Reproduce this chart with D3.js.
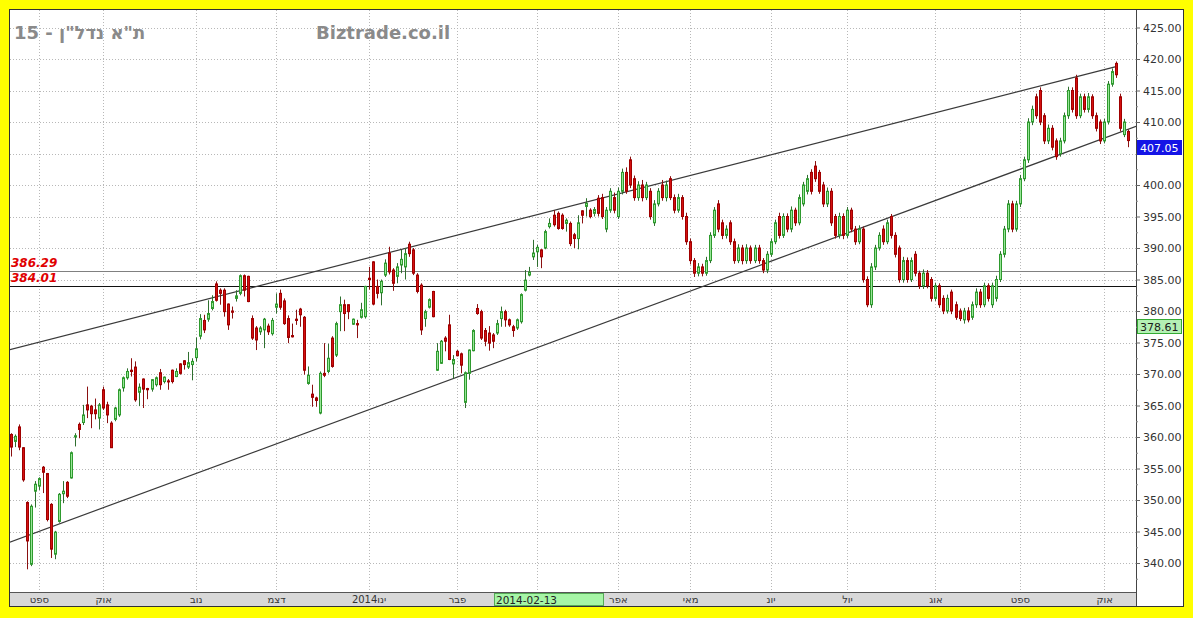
<!DOCTYPE html>
<html><head><meta charset="utf-8">
<script src="https://cdn.jsdelivr.net/npm/d3@7"></script>
<style>html,body{margin:0;padding:0;background:#ffff00;}svg{display:block;}</style>
</head><body><svg id="c" width="1193" height="618"></svg>
<script>
// ---- data ----
const opens = [360.4,359.3,361.6,358.3,349.6,339.8,351.4,352.2,355.2,354.2,349.3,341.4,346.6,351.0,352.8,353.5,360.0,362.0,362.3,365.1,364.9,364.3,363.0,367.5,365.1,362.2,362.8,363.5,367.8,369.4,370.6,371.1,367.1,369.2,367.7,367.6,368.3,370.2,368.8,368.9,370.6,369.6,371.6,372.1,371.1,371.5,372.6,376.0,378.5,378.7,380.4,384.3,383.3,383.3,381.1,380.0,382.0,382.8,385.6,385.5,378.8,377.3,376.7,377.0,377.6,376.4,380.6,382.8,381.6,378.8,376.1,378.7,380.3,379.0,368.5,366.8,366.2,363.8,370.1,370.4,375.7,373.0,379.9,381.0,381.0,377.9,378.0,379.0,379.1,385.2,387.8,383.9,382.9,385.7,389.2,386.5,385.5,387.3,387.0,390.6,389.7,385.7,384.1,378.8,380.6,383.1,370.6,371.7,375.7,377.8,371.6,373.6,373.2,365.5,370.1,373.7,380.4,379.9,376.9,376.5,376.2,376.5,378.8,379.9,378.6,377.5,377.3,378.3,383.3,385.7,388.6,389.4,389.7,390.0,393.4,395.2,395.5,395.2,393.9,393.9,392.1,391.5,395.9,396.6,396.0,395.5,
397.9,398.0,393.0,396.0,398.0,395.0,399.0,402.0,404.0,401.0,398.0,400.0,398.0,399.0,394.0,397.0,400.0,398.0,401.0,398.0,396.0,398.0,395.0,391.0,388.0,386.0,387.0,386.0,388.0,392.0,397.0,394.0,392.0,394.0,391.0,388.0,390.0,388.0,390.0,388.0,390.0,388.0,386.5,389.0,391.0,395.0,392.0,395.0,393.0,396.0,394.0,397.0,399.0,402.0,403.0,402.0,400.0,397.0,399.0,395.0,392.0,395.0,392.0,396.0,393.0,391.0,393.0,385.0,381.0,387.0,390.0,393.0,391.0,395.0,392.0,390.0,385.0,388.0,385.0,389.0,386.0,384.0,386.0,385.0,382.0,384.0,382.0,380.0,383.0,381.0,380.0,378.6,380.0,379.0,381.0,383.0,381.0,384.0,381.0,382.0,385.0,389.0,393.0,397.0,393.0,397.0,401.0,404.0,410.0,414.0,415.0,411.0,407.0,409.0,407.0,405.0,407.0,411.0,415.0,417.0,411.0,414.0,412.0,414.0,411.0,410.0,407.0,410.0,416.0,419.3,414.0,408.0,408.5];
const highs = [360.6,360.4,362.0,358.4,349.8,349.3,353.0,353.6,355.4,354.3,349.5,345.1,351.1,353.0,353.0,357.7,360.6,362.3,365.1,368.0,365.1,366.1,365.4,368.0,365.6,362.5,364.8,367.7,369.6,370.9,372.5,372.0,368.5,369.3,367.8,369.2,369.6,370.8,369.6,369.2,370.7,370.9,371.7,372.2,373.5,372.5,375.8,379.5,379.4,381.7,382.5,384.7,383.6,383.6,381.2,380.7,383.3,385.8,385.8,385.6,379.3,377.6,377.6,378.9,378.0,378.9,382.8,383.4,382.0,379.3,378.0,380.2,380.5,379.2,371.2,368.3,366.4,370.4,374.9,374.8,376.0,378.3,382.3,381.8,381.0,378.8,378.6,381.3,384.0,387.0,387.9,385.0,385.0,388.2,390.2,386.8,387.6,389.7,390.0,391.0,390.0,386.0,384.4,380.2,382.0,383.2,374.9,375.4,376.0,379.4,373.0,373.8,373.4,370.4,373.9,377.1,381.1,380.2,377.3,377.6,376.5,378.6,380.7,380.2,378.8,377.8,378.8,382.8,386.5,387.0,391.3,390.5,389.8,392.9,394.7,396.0,395.8,395.5,394.7,394.2,392.4,395.2,396.0,397.9,396.3,396.5,
398.4,398.6,396.5,399.5,398.8,399.6,402.6,402.8,404.5,401.5,400.6,400.8,400.5,399.5,397.6,399.5,400.8,400.7,401.4,398.5,398.6,398.4,395.6,391.5,388.4,387.6,387.5,388.6,392.5,396.5,397.6,394.5,393.6,394.4,391.5,390.6,390.5,390.6,390.4,390.5,390.5,388.4,389.5,391.5,394.5,395.6,395.5,395.5,396.6,396.4,398.5,400.5,401.6,402.5,403.8,402.4,400.5,399.6,399.5,395.4,395.6,395.5,396.5,396.4,393.5,393.6,393.4,385.5,387.6,390.5,392.5,393.6,394.5,395.4,392.5,390.4,388.6,388.5,388.5,389.5,386.4,386.6,386.5,385.4,384.5,384.4,382.5,382.6,383.4,381.5,380.4,380.5,380.6,381.5,383.6,383.5,384.5,384.4,384.5,385.6,389.5,393.5,397.6,397.5,397.5,401.6,404.5,410.6,412.6,414.5,415.5,411.4,409.6,409.5,407.4,407.5,411.5,415.6,415.5,417.5,414.5,414.5,414.6,414.4,411.5,410.4,410.5,416.5,418.5,419.6,414.5,410.5,408.8];
const lows = [356.9,358.4,357.9,352.9,339.0,339.5,348.8,351.6,351.1,346.6,340.8,340.6,346.4,349.5,350.3,353.4,358.5,359.8,361.9,363.0,361.4,362.8,361.2,364.3,362.2,358.3,362.5,363.2,367.2,369.1,369.6,365.6,364.9,364.6,366.0,367.2,368.0,367.5,368.5,367.5,368.5,369.5,369.9,370.7,370.8,369.0,372.0,375.5,376.5,378.3,380.1,381.5,381.0,379.1,377.0,378.8,381.5,382.5,382.3,381.4,375.4,373.8,376.2,374.1,376.2,376.1,379.6,380.2,377.8,374.9,375.8,377.8,377.5,369.9,368.3,364.8,364.8,363.6,369.5,370.1,371.0,372.7,376.8,376.8,378.7,377.8,375.7,378.8,378.8,383.4,380.9,382.0,380.9,385.4,385.8,383.2,384.4,386.0,385.0,388.6,385.7,382.8,376.2,377.5,380.4,379.0,370.5,371.6,373.6,372.2,369.3,372.8,370.1,364.6,369.1,373.6,379.4,375.4,374.4,373.7,374.1,376.2,377.5,377.5,377.5,375.9,377.0,378.0,383.1,385.5,388.1,387.0,386.8,389.8,393.1,393.4,392.9,392.9,392.6,390.3,390.0,389.8,393.9,395.0,394.7,395.0,
395.0,394.6,392.5,395.6,395.5,394.6,398.5,398.6,399.5,397.5,397.5,397.4,397.6,394.5,393.5,396.6,397.5,397.4,397.6,395.5,395.6,394.5,390.5,387.4,385.4,385.5,385.5,385.6,387.6,391.6,392.5,391.4,391.5,390.5,387.5,387.6,387.4,387.5,387.5,387.6,387.5,386.0,386.0,388.6,390.6,391.5,391.6,392.5,392.5,393.5,393.6,396.6,398.5,398.5,400.5,398.6,396.5,396.5,393.5,391.5,391.5,391.4,391.6,392.5,390.5,390.6,384.5,380.6,380.5,386.5,389.6,390.5,390.6,391.5,388.5,384.5,384.5,384.5,384.6,385.5,383.5,383.5,383.6,381.5,381.6,380.5,379.5,379.6,379.5,378.6,378.4,378.0,378.2,378.6,380.5,380.5,380.6,381.5,380.5,381.5,384.6,388.5,392.5,392.5,392.6,396.5,400.6,403.5,409.5,410.5,409.5,406.5,406.5,405.5,404.0,404.5,406.6,410.5,411.5,410.5,410.6,411.5,411.5,410.5,408.5,406.5,406.6,409.6,415.6,417.0,408.5,407.6,406.0];
const closes = [358.4,360.1,358.4,353.2,343.5,349.0,352.5,353.4,354.4,346.9,342.2,344.9,350.9,351.4,350.6,357.5,360.2,361.2,363.5,364.3,363.7,363.7,365.1,364.6,363.5,358.3,364.6,367.5,369.4,370.4,370.4,365.9,367.9,367.6,367.5,369.1,369.4,368.3,369.5,368.8,368.8,370.4,370.1,371.5,371.8,372.0,374.0,378.8,377.0,379.6,381.5,381.7,382.8,379.9,377.8,379.8,382.4,385.6,383.3,381.5,375.7,375.4,377.3,378.7,376.7,378.5,381.1,380.6,378.0,375.8,375.9,378.5,379.4,370.6,369.8,366.3,365.8,370.1,369.8,372.5,371.2,378.0,381.0,379.6,379.9,378.7,377.8,380.2,383.9,385.0,381.1,382.8,384.7,387.6,386.2,384.4,387.0,388.2,389.1,389.1,386.0,383.1,377.0,379.9,381.8,379.1,373.6,375.2,375.2,372.3,372.3,372.9,371.4,370.2,373.8,376.9,379.6,375.7,375.2,374.9,375.2,378.0,379.9,378.6,377.8,376.9,378.6,382.6,384.9,386.2,389.2,390.1,388.6,392.6,393.9,393.7,393.1,393.1,394.4,390.7,391.5,394.0,395.2,397.1,395.0,396.1,
395.5,395.0,396.0,399.0,396.0,399.0,402.0,399.0,400.0,398.0,400.0,398.0,400.0,395.0,397.0,399.0,398.0,400.0,398.0,396.0,398.0,395.0,391.0,388.0,386.0,387.0,386.0,388.0,392.0,396.0,393.0,392.0,393.0,391.0,388.0,390.0,388.0,390.0,388.0,390.0,388.0,386.5,389.0,391.0,394.0,392.0,395.0,393.0,396.0,394.0,398.0,400.0,401.0,399.0,401.0,399.0,397.0,399.0,394.0,392.0,395.0,392.0,396.0,393.0,391.0,393.0,385.0,381.0,387.0,390.0,392.0,391.0,394.0,392.0,389.0,385.0,388.0,385.0,388.0,386.0,384.0,386.0,384.0,382.0,384.0,381.0,380.0,382.0,380.0,379.0,378.8,380.0,378.6,381.0,383.0,381.0,384.0,382.0,384.0,385.0,389.0,393.0,397.0,393.0,397.0,401.0,404.0,410.0,412.0,411.0,410.0,407.0,409.0,406.0,404.5,407.0,411.0,415.0,412.0,411.0,414.0,412.0,414.0,411.0,409.0,407.0,410.0,416.0,418.0,417.5,409.0,410.0,407.05];

// month tick labels and the trading-day index where each month starts
const monthLabels = ["ספט","אוק","נוב","דצמ","2014ינו","פבר","מרץ","אפר","מאי","יונ","יול","אוג","ספט","אוק"];
const monthStarts = [7,23,46,66,89,111,131,151,169,189,208,230,251,272];
const priceTicks = [340,345,350,355,360,365,370,375,380,385,390,395,400,405,410,415,420,425];
const levelValues = [386.29, 384.01];
const upperTrend = [[-0.82, 373.8],[274.8, 418.8]];
const lowerTrend = [[-0.82, 343.2],[279.8, 409.3]];
const lastPrice = 407.05;
const markPrice = 378.61;
const cursorDate = "2014-02-13";
const titleText = "15 - ת\"א נדל\"ן";
const brandText = "Biztrade.co.il";

// ---- layout ----
const N = closes.length;
const PL = 10, PR = 1136, PT = 10, PB = 592;
const step = 4.02;
const svg = d3.select("#c");
const x = d3.scaleLinear().domain([-0.5, N - 0.5]).range([9.3, 9.3 + N * step]);
const y = d3.scaleLinear().domain([340, 425]).range([563, 27.5]);
const FONT = "DejaVu Sans, Verdana, sans-serif";

svg.append("rect").attr("width",1193).attr("height",618).attr("fill","#ffff00");
svg.append("rect").attr("x",9.5).attr("y",9.5).attr("width",1174).attr("height",597)
  .attr("fill","#fff").attr("stroke","#333");

const defs = svg.append("defs");
defs.append("clipPath").attr("id","plot").append("rect")
  .attr("x",PL).attr("y",PT).attr("width",PR-PL).attr("height",PB-PT);

const grid = svg.append("g").attr("clip-path","url(#plot)");
grid.selectAll("line.h").data(priceTicks).join("line")
  .attr("x1",PL).attr("x2",PR)
  .attr("y1",d=>Math.round(y(d))+0.5).attr("y2",d=>Math.round(y(d))+0.5)
  .attr("stroke","#b8b8b8").attr("stroke-dasharray","1,2");
grid.selectAll("line.v").data(monthStarts).join("line")
  .attr("x1",d=>Math.floor(x(d))+0.5).attr("x2",d=>Math.floor(x(d))+0.5)
  .attr("y1",PT).attr("y2",PB)
  .attr("stroke","#b8b8b8").attr("stroke-dasharray","1,2");

// level lines
const lv = svg.append("g").attr("clip-path","url(#plot)");
lv.selectAll("line").data(levelValues).join("line")
  .attr("x1",PL).attr("x2",PR)
  .attr("y1",d=>Math.round(y(d))+0.5).attr("y2",d=>Math.round(y(d))+0.5)
  .attr("stroke",(d,i)=>i===0?"#808080":"#111").attr("stroke-width",1.2);
lv.selectAll("text").data(levelValues).join("text")
  .attr("x",11).attr("y",d=>Math.round(y(d))-4)
  .attr("font-family",FONT).attr("font-size",12).attr("font-style","italic").attr("font-weight","bold")
  .attr("fill","#e00000").text(d=>d.toFixed(2));

// trend lines
const tl = svg.append("g").attr("clip-path","url(#plot)");
[upperTrend, lowerTrend].forEach(t=>{
  tl.append("line").attr("x1",x(t[0][0])).attr("y1",y(t[0][1]))
    .attr("x2",x(t[1][0])).attr("y2",y(t[1][1]))
    .attr("stroke","#3a3a3a").attr("stroke-width",1.2);
});

// candles
const cg = svg.append("g").attr("clip-path","url(#plot)");
const idx = d3.range(N);
const up = i => closes[i] >= opens[i];
cg.selectAll("line.w").data(idx).join("line")
  .attr("x1",i=>Math.floor(x(i))+0.5).attr("x2",i=>Math.floor(x(i))+0.5)
  .attr("y1",i=>y(highs[i])).attr("y2",i=>y(lows[i]))
  .attr("stroke",i=>up(i)?"#2f6f2f":"#8a1010").attr("stroke-width",1);
cg.selectAll("rect.b").data(idx).join("rect")
  .attr("x",i=>Math.floor(x(i))-0.5).attr("width",2)
  .attr("y",i=>y(Math.max(opens[i],closes[i])))
  .attr("height",i=>Math.max(1,Math.abs(y(opens[i])-y(closes[i]))))
  .attr("fill",i=>up(i)?"#98e698":"#d41010")
  .attr("stroke",i=>up(i)?"#2e9a2e":"#a00000").attr("stroke-width",1);

// bottom band
svg.append("rect").attr("x",PL).attr("y",PB).attr("width",PR-PL).attr("height",14)
  .attr("fill","#d8d8d8");
svg.append("line").attr("x1",PL).attr("x2",PR).attr("y1",PB+0.5).attr("y2",PB+0.5).attr("stroke","#555");
// cursor date box geometry (the month label under it is hidden, as in the reference)
const boxX0 = 494.5, boxX1 = 603.5;
const visibleMonths = monthStarts.map((d,i)=>({d, t:monthLabels[i]}))
  .filter(o => x(o.d) < boxX0 - 12 || x(o.d) > boxX1 + 12);
svg.selectAll("text.m").data(visibleMonths).join("text")
  .attr("x",o=>x(o.d)).attr("y",603).attr("text-anchor","middle")
  .attr("font-family",FONT).attr("font-size",10).attr("fill","#333")
  .text(o=>o.t);
svg.append("rect").attr("x",boxX0).attr("y",593.5).attr("width",boxX1-boxX0).attr("height",12)
  .attr("fill","#a6f5a6").attr("stroke","#5a5");
svg.append("text").attr("x",boxX0+1.5).attr("y",603.5)
  .attr("font-family",FONT).attr("font-size",10.5).attr("fill","#222").text(cursorDate);

// right axis
svg.append("line").attr("x1",PR+0.5).attr("x2",PR+0.5).attr("y1",PT).attr("y2",606)
  .attr("stroke","#444");
const boxPrices = [lastPrice, markPrice];
const hiddenTick = t => boxPrices.some(b => { const d = y(t) - y(b); return d > 2 && d < 16; });
const ax = svg.append("g").attr("transform",`translate(${PR},0)`)
  .call(d3.axisRight(y).tickValues(priceTicks).tickSize(4).tickPadding(3)
    .tickFormat(t => hiddenTick(t) ? "" : d3.format(".2f")(t)));
ax.select(".domain").remove();
ax.selectAll("text").attr("font-family",FONT).attr("font-size",11).attr("fill","#333");
ax.selectAll("line").attr("stroke","#666");
const minor = svg.append("g").attr("transform",`translate(${PR},0)`)
  .call(d3.axisRight(y).tickValues(priceTicks.map(v=>v-2.5).filter(v=>v>=337)).tickSize(2).tickFormat(""));
minor.select(".domain").remove();
minor.selectAll("line").attr("stroke","#888");

// price boxes: box top sits at the price level
function priceBox(v, fill, stroke, txt){
  const yy = Math.round(y(v));
  svg.append("rect").attr("x",PR+1.5).attr("y",yy-0.5).attr("width",44).attr("height",14)
    .attr("fill",fill).attr("stroke",stroke);
  svg.append("text").attr("x",PR+4).attr("y",yy+10.5)
    .attr("font-family",FONT).attr("font-size",11).attr("fill",txt).text(v.toFixed(2));
}
priceBox(lastPrice, "#1414e6", "#1414e6", "#ffffff");
priceBox(markPrice, "#b4f0b4", "#3a3", "#1a1a1a");

// titles
svg.append("text").attr("x",14).attr("y",39)
  .attr("font-family",FONT).attr("font-size",18).attr("font-weight","bold").attr("fill","#8a8a8a")
  .text(titleText);
svg.append("text").attr("x",316).attr("y",39)
  .attr("font-family",FONT).attr("font-size",18).attr("font-weight","bold").attr("fill","#8a8a8a")
  .text(brandText);
</script></body></html>
